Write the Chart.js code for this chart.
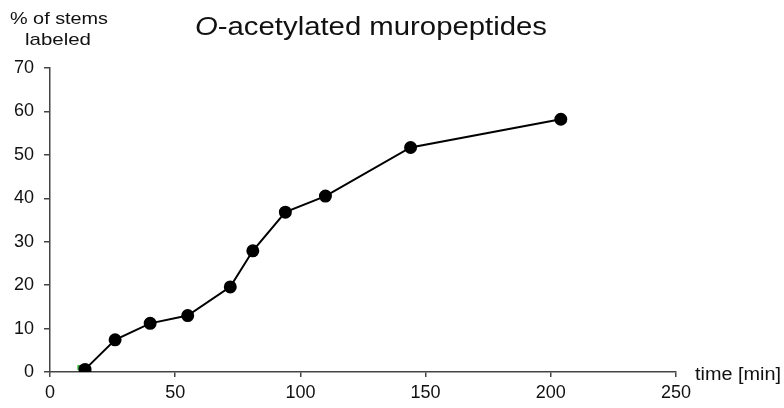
<!DOCTYPE html>
<html>
<head>
<meta charset="utf-8">
<script src="https://cdn.jsdelivr.net/npm/chart.js@4"></script>
<style>
  html, body { margin: 0; padding: 0; background: #fff; }
  #wrap { width: 784px; height: 408px; position: relative; }
</style>
</head>
<body>
<div id="wrap"><canvas id="chart"></canvas></div>
<script>
// data
const times = [14, 26, 40, 55, 72, 81, 94, 110, 144, 204];
const labeled = [0.6, 7.4, 11.2, 13.0, 19.6, 27.9, 36.8, 40.5, 51.7, 58.2];
const greenTime = [12];
const greenValue = [1.0];
const xTicks = [0, 50, 100, 150, 200, 250];
const yTicks = [0, 10, 20, 30, 40, 50, 60, 70];

const FONT = "'Liberation Sans', Arial, sans-serif";

// text in the original is a bit wider than Arial, so stretch it horizontally
function stretchedText(ctx, parts, centerX, baseline, targetWidth) {
    let total = 0;
    parts.forEach(p => { ctx.font = p.font; p.w = ctx.measureText(p.text).width; total += p.w; });
    const k = targetWidth / total;
    ctx.save();
    ctx.translate(centerX - targetWidth / 2, baseline);
    ctx.scale(k, 1);
    ctx.textAlign = 'left';
    ctx.textBaseline = 'alphabetic';
    let x = 0;
    parts.forEach(p => { ctx.font = p.font; ctx.fillText(p.text, x, 0); x += p.w; });
    ctx.restore();
}

const textPlugin = {
    id: 'texts',
    afterDraw(chart) {
        const ctx = chart.ctx;
        ctx.save();
        ctx.fillStyle = '#111';

        // title with italic O
        stretchedText(ctx, [
            { text: 'O', font: 'italic 25px ' + FONT },
            { text: '-acetylated muropeptides', font: '25px ' + FONT }
        ], 371, 35, 352);

        // y axis title
        stretchedText(ctx, [{ text: '% of stems', font: '17px ' + FONT }], 59, 24, 98);
        stretchedText(ctx, [{ text: 'labeled', font: '17px ' + FONT }], 58, 45, 66);

        // x axis title
        stretchedText(ctx, [{ text: 'time [min]', font: '18px ' + FONT }], 738, 380, 86);
        ctx.restore();
    }
};

const ctx = document.getElementById('chart').getContext('2d');
window.muroChart = new Chart(ctx, {
    type: 'scatter',
    data: {
        datasets: [
            {
                label: 'O-acetylated',
                data: times.map((t, i) => ({ x: t, y: labeled[i] })),
                showLine: true,
                borderColor: '#000',
                borderWidth: 2,
                pointBackgroundColor: '#000',
                pointBorderColor: '#000',
                pointRadius: 5.5,
                pointHoverRadius: 5.5,
                order: 1
            },
            {
                label: 'marker',
                data: greenTime.map((t, i) => ({ x: t, y: greenValue[i] })),
                pointStyle: 'rect',
                pointBackgroundColor: '#3a3',
                pointBorderColor: '#3a3',
                pointRadius: 3,
                order: 2
            }
        ]
    },
    options: {
        responsive: true,
        maintainAspectRatio: false,
        animation: false,
        layout: { padding: { top: 68, right: 108, left: 0, bottom: 0 } },
        plugins: {
            legend: { display: false },
            tooltip: { enabled: false },
            title: { display: false }
        },
        scales: {
            x: {
                type: 'linear',
                min: 0,
                max: 250,
                afterBuildTicks: scale => { scale.ticks = xTicks.map(v => ({ value: v })); },
                afterFit: scale => { scale.height = 36; },
                grid: { drawOnChartArea: false, drawTicks: true, tickLength: 5, tickColor: '#444', lineWidth: 1.5 },
                border: { display: true, color: '#444', width: 1.5 },
                ticks: { color: '#111', font: { size: 18, family: FONT }, padding: 5, maxRotation: 0 }
            },
            y: {
                type: 'linear',
                min: 0,
                max: 70,
                afterBuildTicks: scale => { scale.ticks = yTicks.map(v => ({ value: v })); },
                afterFit: scale => { scale.width = 50; },
                grid: { drawOnChartArea: false, drawTicks: true, tickLength: 6, tickColor: '#444', lineWidth: 1.5 },
                border: { display: true, color: '#444', width: 1.5 },
                ticks: { color: '#111', font: { size: 18, family: FONT }, padding: 10 }
            }
        }
    },
    plugins: [textPlugin]
});
</script>
</body>
</html>
